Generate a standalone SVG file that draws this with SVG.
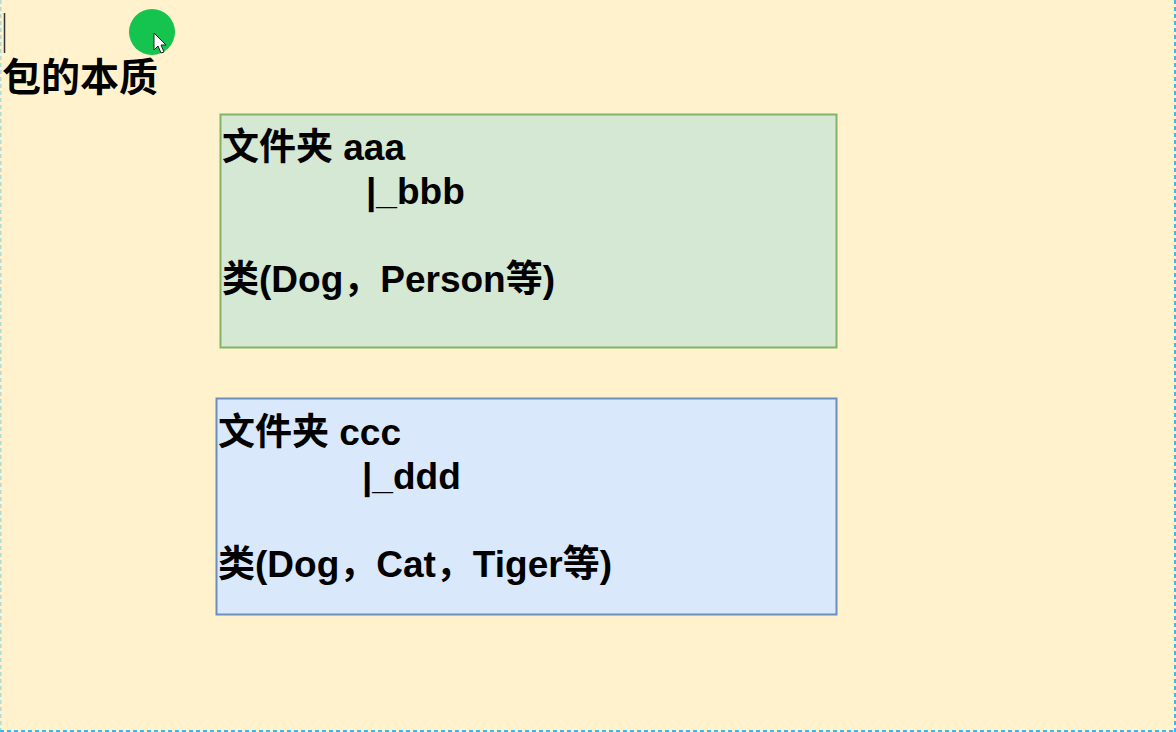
<svg xmlns="http://www.w3.org/2000/svg" width="1176" height="732" viewBox="0 0 1176 732">
  <style>
    .t { font-family: "Liberation Sans", "Noto Sans CJK SC", sans-serif; font-weight: bold; font-size: 37px; fill: #000; }
    .title { font-size: 39px; }
    .edge { stroke: #3DB8E8; stroke-width: 2; stroke-dasharray: 4 3; fill: none; }
  </style>
  <rect x="0" y="0" width="1176" height="732" fill="#FFF2CC"/>
  <line class="edge" x1="1175" y1="0" x2="1175" y2="732"/>
  <line class="edge" x1="0" y1="731" x2="1176" y2="731"/>
  <line class="edge" x1="0.5" y1="0" x2="0.5" y2="732" stroke-opacity="0.4"/>
  <line x1="4.5" y1="13" x2="4.5" y2="53" stroke="#333" stroke-width="1.5"/>
  <g id="cursor">
    <circle cx="152" cy="32" r="23" fill="#14C44E"/>
    <path d="M154,33 L154,50 L158,46 L161,53 L164,52 L161,45 L166,45 Z" fill="#fff" stroke="#222" stroke-width="1"/>
  </g>
  <g id="title">
    <text class="t title" x="2" y="91">包的本质</text>
  </g>
  <g id="node-aaa">
    <rect x="220.5" y="114.5" width="616" height="233" fill="#D5E8D4" stroke="#82B366" stroke-width="2"/>
    <text class="t" x="222" y="160">文件夹 aaa</text>
    <text class="t" x="366" y="204">|_bbb</text>
    <text class="t" x="222" y="292">类(Dog，Person等)</text>
  </g>
  <g id="node-ccc">
    <rect x="216.5" y="398.5" width="620" height="216" fill="#DAE8FC" stroke="#6C8EBF" stroke-width="2"/>
    <text class="t" x="218" y="445">文件夹 ccc</text>
    <text class="t" x="362" y="489">|_ddd</text>
    <text class="t" x="218" y="577">类(Dog，Cat，Tiger等)</text>
  </g>
  <g id="connectors"></g>
</svg>
